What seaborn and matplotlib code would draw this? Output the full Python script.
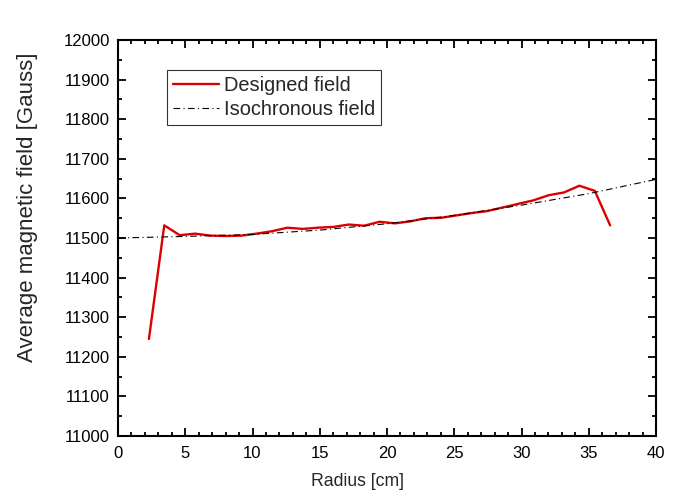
import matplotlib
matplotlib.use("Agg")
import matplotlib.pyplot as plt
import seaborn as sns
import pandas as pd
from matplotlib.ticker import MultipleLocator

# Designed field (red)
radius_designed = [2.30, 3.44, 4.59, 5.73, 6.87, 8.02, 9.16, 10.30, 11.44, 12.59,
                   13.73, 14.87, 16.02, 17.16, 18.30, 19.45, 20.59, 21.73, 22.87,
                   24.02, 25.16, 26.30, 27.45, 28.59, 29.73, 30.88, 32.02, 33.16,
                   34.30, 35.45, 36.59]
field_designed = [11245, 11532, 11507, 11511, 11506, 11505, 11506, 11511, 11517, 11526,
                  11523, 11526, 11528, 11534, 11531, 11541, 11537, 11542, 11550,
                  11551, 11557, 11563, 11568, 11577, 11586, 11595, 11608, 11615,
                  11632, 11619, 11532]

# Isochronous field (black dash-dot)
radius_iso = [0, 5, 10, 15, 20, 25, 30, 35, 40]
field_iso = [11500, 11504, 11509, 11520, 11536, 11557, 11583, 11612, 11648]

x_ticks = [0, 5, 10, 15, 20, 25, 30, 35, 40]
y_ticks = [11000, 11100, 11200, 11300, 11400, 11500, 11600, 11700, 11800, 11900, 12000]

sns.set_style("ticks")
plt.rcParams['font.family'] = ['Liberation Sans', 'DejaVu Sans']

fig = plt.figure(figsize=(6.99, 4.99), dpi=100)
ax = fig.add_axes([118/699, 1-436/499, (656-118)/699, (436-40)/499])

df_d = pd.DataFrame({"r": radius_designed, "B": field_designed})
df_i = pd.DataFrame({"r": radius_iso, "B": field_iso})

sns.lineplot(data=df_d, x="r", y="B", ax=ax, color="#dd0000", linewidth=1.7,
             label="Designed field", estimator=None, sort=False)
sns.lineplot(data=df_i, x="r", y="B", ax=ax, color="black", linewidth=0.8,
             label="Isochronous field", estimator=None, sort=False)
ax.lines[1].set_dashes([6, 3, 1, 3])

ax.set_xlim(0, 40)
ax.set_ylim(11000, 12000)
ax.set_xticks(x_ticks)
ax.set_yticks(y_ticks)
ax.xaxis.set_minor_locator(MultipleLocator(1))
ax.yaxis.set_minor_locator(MultipleLocator(50))
ax.tick_params(which="both", direction="in", top=True, right=True, width=1.3,
               labelsize=12, colors="black")
ax.tick_params(axis="x", which="major", pad=7)
ax.tick_params(axis="y", which="major", pad=6)
ax.tick_params(which="major", length=6)
ax.tick_params(which="minor", length=3)
for s in ax.spines.values():
    s.set_linewidth(1.5)
    s.set_color("black")

ax.set_xlabel("Radius [cm]", fontsize=12.7)
ax.set_ylabel("Average magnetic field [Gauss]", fontsize=16)
ax.xaxis.set_label_coords(0.446, -0.093)
ax.yaxis.set_label_coords(-0.149, 0.578)

leg = ax.legend(loc="upper left", bbox_to_anchor=(0.091, 0.924), borderaxespad=0,
                fontsize=14.4, frameon=True, fancybox=False, handlelength=2.3,
                handletextpad=0.25, borderpad=0.3, labelspacing=0.25)
leg.get_frame().set_edgecolor("black")
leg.get_frame().set_linewidth(0.8)

fig.savefig("out.png", dpi=100)
